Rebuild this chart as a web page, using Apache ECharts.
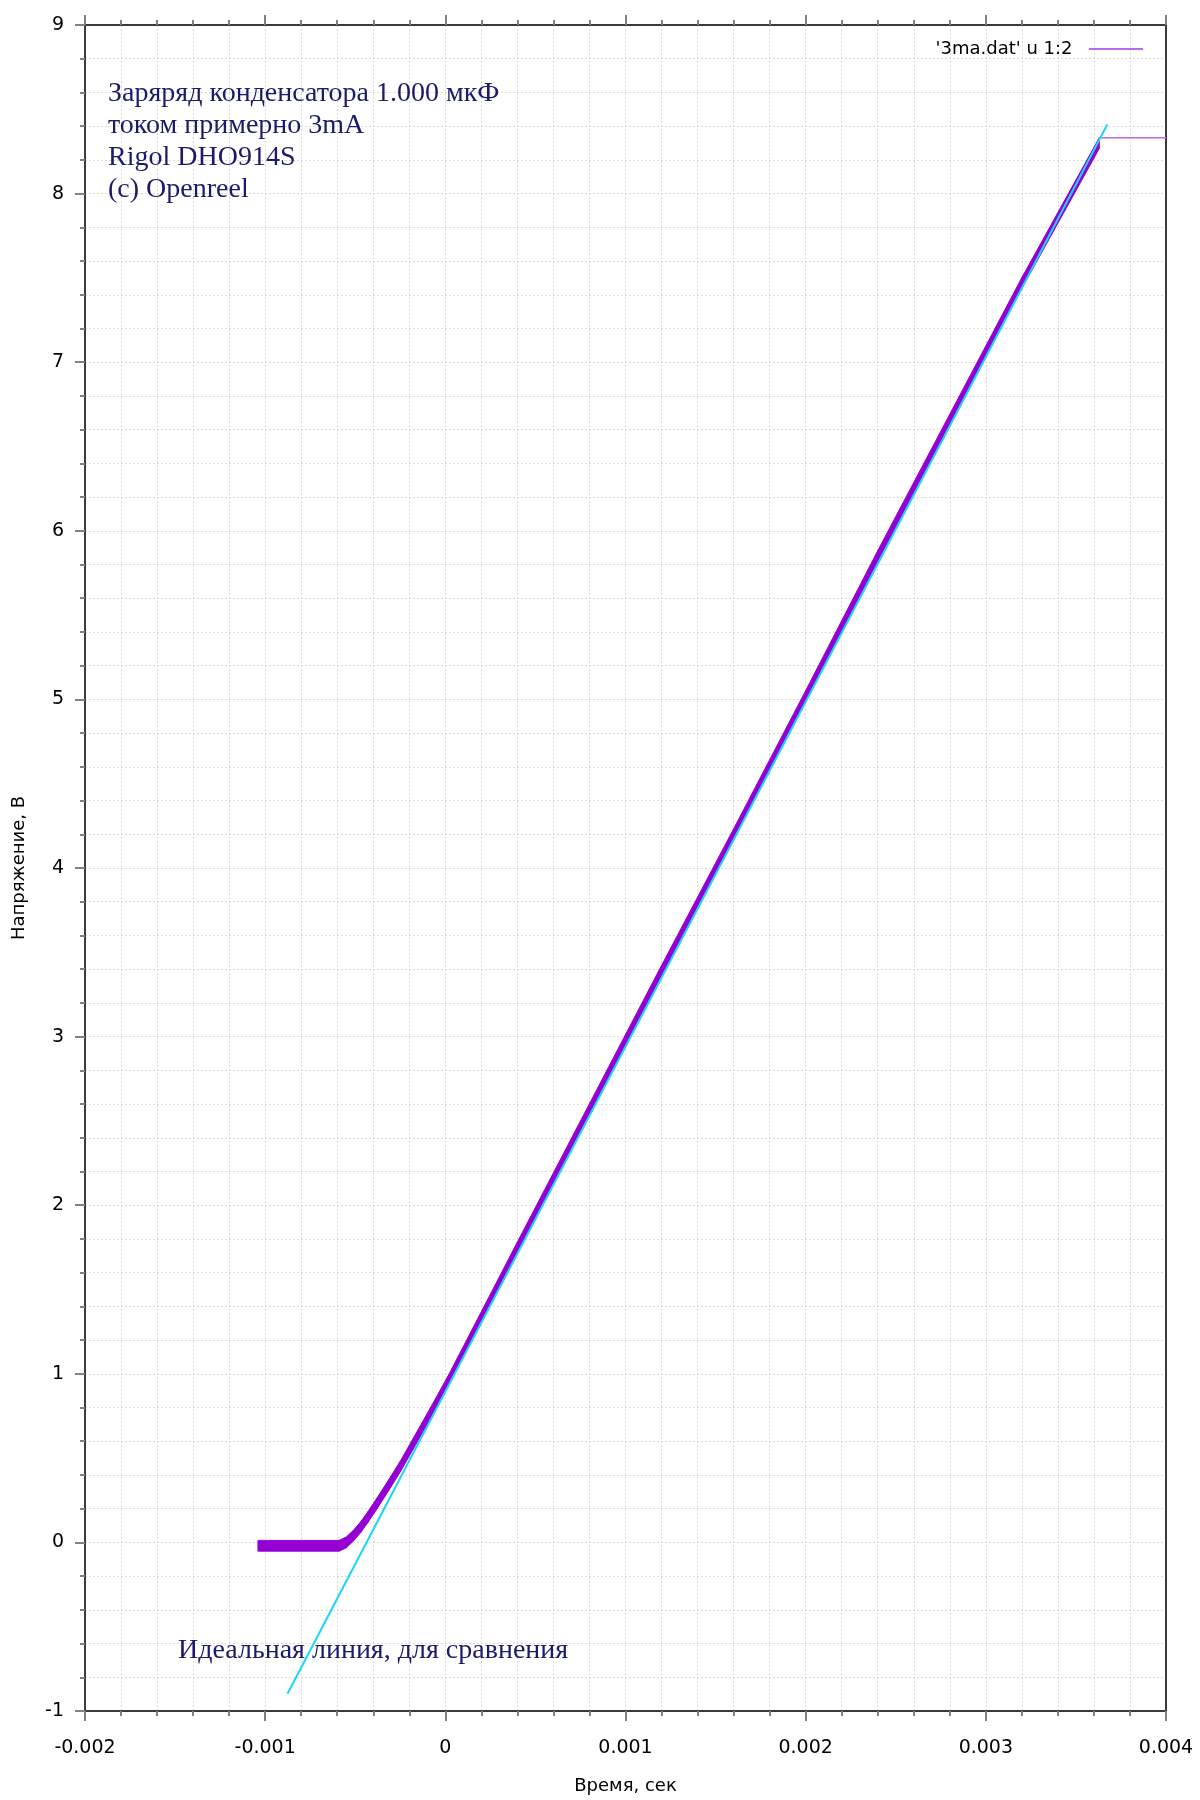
<!DOCTYPE html>
<html><head><meta charset="utf-8">
<script src="https://cdn.jsdelivr.net/npm/echarts@6/dist/echarts.min.js"></script>
<style>html,body{margin:0;padding:0;background:#fff}#c{width:1200px;height:1800px}</style>
</head><body><div id="c"></div>
<script>
// ---- data ----
const xTicks = [-0.002, -0.001, 0, 0.001, 0.002, 0.003, 0.004];
const xTickLabels = ['-0.002', '-0.001', '0', '0.001', '0.002', '0.003', '0.004'];
const yTicks = [-1, 0, 1, 2, 3, 4, 5, 6, 7, 8, 9];
const yTickLabels = ['-1', '0', '1', '2', '3', '4', '5', '6', '7', '8', '9'];

// measured capacitor voltage (3ma.dat), centre of the noisy trace
const measT = [-0.00104, -0.00059, -0.00055, -0.00051, -0.00047, -0.00043, -0.00038, -0.00032,
               -0.00025, -0.00016, -0.00006, 0.00002, 0.0004, 0.0008, 0.0012, 0.0016, 0.0020,
               0.0024, 0.0028, 0.0032, 0.00363];
const measV = [-0.02, -0.02, 0.00, 0.04, 0.09, 0.15, 0.23, 0.33,
               0.45, 0.62, 0.81, 0.965, 1.75, 2.57, 3.39, 4.20, 5.02,
               5.85, 6.66, 7.47, 8.30];
const measNoise = 0.032; // half-width of the noise band, volts
// saturated tail of the record
const tailT = [0.00363, 0.0040];
const tailV = [8.331, 8.331];
// ideal line for comparison
const idealT = [-0.000876, 0.003674];
const idealV = [-0.898, 8.41];

const seriesName = "'3ma.dat' u 1:2";
const notes = ['Заряряд конденсатора 1.000 мкФ', 'током примерно 3mA', 'Rigol DHO914S', '(c) Openreel'];
const idealNote = 'Идеальная линия, для сравнения';

// ---- chart ----
const chart = echarts.init(document.getElementById('c'), null, {renderer: 'canvas'});
const sansFont = 'DejaVu Sans';
const gridColor = '#dadada';
const axisColor = '#3c3c3c';
const tickColor = '#808080';

function fmt(ticks, labels) {
  return function (v) {
    const k = ticks.findIndex(x => Math.abs(x - v) < 1e-9);
    return k >= 0 ? labels[k] : '';
  };
}

const noteY = [96, 128, 160, 192];
const noteTexts = notes.map((s, i) => ({
  type: 'text', left: 108, top: noteY[i] - 16, z: 100,
  style: {text: s, font: '28px "Liberation Serif"', fill: '#1b1b6b'}
}));

const option = {
  animation: false,
  backgroundColor: '#fff',
  grid: {left: 85, right: 34, top: 25, bottom: 89, containLabel: false},
  legend: {
    right: 52, top: 35, align: 'right', itemWidth: 54, itemHeight: 2,
    data: [{name: seriesName, icon: 'rect', itemStyle: {color: '#bb6aea'}}],
    formatter: n => n + '  ',
    textStyle: {fontFamily: sansFont, fontSize: 18, color: '#000'}
  },
  xAxis: [{
    type: 'value', min: -0.002, max: 0.004, interval: 0.001, position: 'bottom',
    name: 'Время, сек', nameLocation: 'middle', nameGap: 66,
    nameTextStyle: {fontFamily: sansFont, fontSize: 18, color: '#000'},
    axisLine: {show: true, onZero: false, lineStyle: {color: axisColor, width: 2}},
    axisTick: {show: true, inside: false, length: 10, lineStyle: {color: tickColor, width: 2}},
    minorTick: {show: true, splitNumber: 5, length: 5, lineStyle: {color: tickColor, width: 2}},
    axisLabel: {margin: 28, fontFamily: sansFont, fontSize: 19, color: '#000', formatter: fmt(xTicks, xTickLabels)},
    splitLine: {show: true, lineStyle: {color: gridColor, type: [2, 2], width: 1}},
    minorSplitLine: {show: true, lineStyle: {color: gridColor, type: [2, 2], width: 1}}
  }, {
    type: 'value', min: -0.002, max: 0.004, interval: 0.001, position: 'top',
    axisLine: {show: true, onZero: false, lineStyle: {color: axisColor, width: 2}},
    axisTick: {show: true, inside: false, length: 10, lineStyle: {color: tickColor, width: 2}},
    minorTick: {show: true, splitNumber: 5, length: 5, lineStyle: {color: tickColor, width: 2}},
    axisLabel: {show: false}, splitLine: {show: false}
  }],
  yAxis: [{
    type: 'value', min: -1, max: 9, interval: 1, position: 'left',
    name: 'Напряжение, В', nameLocation: 'middle', nameGap: 57, nameRotate: 90,
    nameTextStyle: {fontFamily: sansFont, fontSize: 18, color: '#000'},
    axisLine: {show: true, onZero: false, lineStyle: {color: axisColor, width: 2}},
    axisTick: {show: true, inside: false, length: 10, lineStyle: {color: tickColor, width: 2}},
    minorTick: {show: true, splitNumber: 5, length: 5, lineStyle: {color: tickColor, width: 2}},
    axisLabel: {margin: 21, fontFamily: sansFont, fontSize: 19, color: '#000', formatter: fmt(yTicks, yTickLabels)},
    splitLine: {show: true, lineStyle: {color: gridColor, type: [2, 2], width: 1}},
    minorSplitLine: {show: true, lineStyle: {color: gridColor, type: [2, 2], width: 1}}
  }, {
    type: 'value', min: -1, max: 9, interval: 1, position: 'right',
    axisLine: {show: true, onZero: false, lineStyle: {color: axisColor, width: 2}},
    axisTick: {show: false}, axisLabel: {show: false}, splitLine: {show: false}
  }],
  series: [{
    name: 'band', type: 'custom', xAxisIndex: 0, yAxisIndex: 0, z: 3,
    data: measT.map((t, i) => [t, measV[i]]),
    encode: {x: 0, y: 1},
    renderItem: function (params, api) {
      const i = params.dataIndex;
      if (i === 0) return null;
      const t0 = measT[i - 1], v0 = measV[i - 1], t1 = measT[i], v1 = measV[i];
      const h = measNoise;
      const pts = [api.coord([t0, v0 + h]), api.coord([t1, v1 + h]), api.coord([t1, v1 - h]), api.coord([t0, v0 - h])];
      return {type: 'polygon', shape: {points: pts}, style: {fill: '#9400d3', stroke: '#9400d3', lineWidth: 1}};
    }
  }, {
    name: seriesName, type: 'line', xAxisIndex: 0, yAxisIndex: 0, z: 3,
    data: tailT.map((t, i) => [t, tailV[i]]),
    showSymbol: false, symbol: 'none',
    lineStyle: {color: '#bb6aea', width: 1.5}, itemStyle: {color: '#bb6aea'}
  }, {
    name: 'ideal', type: 'line', xAxisIndex: 0, yAxisIndex: 0, z: 4,
    data: idealT.map((t, i) => [t, idealV[i]]),
    showSymbol: false, symbol: 'none',
    lineStyle: {color: '#1ad6f6', width: 2}
  }],
  graphic: noteTexts.concat([{
    type: 'text', left: 178, top: 1653 - 16, z: 100,
    style: {text: idealNote, font: '28px "Liberation Serif"', fill: '#1b1b6b'}
  }])
};
chart.setOption(option);
</script>
</body></html>
